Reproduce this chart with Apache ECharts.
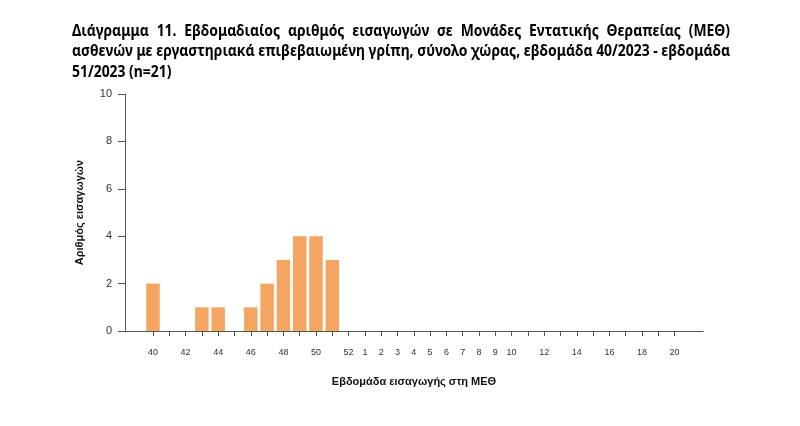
<!DOCTYPE html>
<html>
<head>
<meta charset="utf-8">
<script src="https://cdn.jsdelivr.net/npm/echarts@6/dist/echarts.min.js"></script>
<style>
html,body{margin:0;padding:0;background:#fff;}
#c{width:800px;height:426px;}
</style>
</head>
<body>
<div id="c"></div>
<script>
// Weeks 40/2023 .. 20/2024
const weeks = ['40','41','42','43','44','45','46','47','48','49','50','51','52',
  '1','2','3','4','5','6','7','8','9','10','11','12','13','14','15','16','17','18','19','20'];
const admissions = [2,0,0,1,1,0,1,2,3,4,4,3,0, 0,0,0,0,0,0,0,0,0,0,0,0,0,0,0,0,0,0,0,0];
const labelledWeeks = ['40','42','44','46','48','50','52','1','2','3','4','5','6','7','8','9','10','12','14','16','18','20'];
const yTicks = [0,2,4,6,8,10];

const titleLine1Words = ['Διάγραμμα','11.','Εβδομαδιαίος','αριθμός','εισαγωγών','σε','Μονάδες','Εντατικής','Θεραπείας','(ΜΕΘ)'];
const titleLine2 = 'ασθενών με εργαστηριακά επιβεβαιωμένη γρίπη, σύνολο χώρας, εβδομάδα 40/2023 - εβδομάδα';
const titleLine3 = '51/2023 (n=21)';
const yName = 'Αριθμός εισαγωγών';
const xName = 'Εβδομάδα εισαγωγής στη ΜΕΘ';

// title layout: condensed to match the narrow original font
const TL = 72, TR = 730;
const fam = '"Noto Sans", sans-serif';
const fs = 15.5;
const font = 'bold ' + fs + 'px ' + fam;
const cv = document.createElement('canvas').getContext('2d');
function w(t){ cv.font = font; return cv.measureText(t).width; }
const sx = (TR - TL) / w(titleLine2);
const lineY = [31.5, 52, 72.5];
const gfx = [];
function txt(t, x, y){
  gfx.push({type:'text', x:x, y:y, scaleX:sx, scaleY:1,
    style:{x:0, y:0, text:t, font:font, fill:'#000', verticalAlign:'middle', align:'left'}});
}
const wordsW = titleLine1Words.map(t => w(t) * sx);
const totalW = wordsW.reduce((a,b)=>a+b,0);
const gap = (TR - TL - totalW) / (titleLine1Words.length - 1);
let x = TL;
titleLine1Words.forEach((t,i) => { txt(t, x, lineY[0]); x += wordsW[i] + gap; });
txt(titleLine2, TL, lineY[1]);
txt(titleLine3, TL, lineY[2]);

const chart = echarts.init(document.getElementById('c'), null, {renderer:'canvas'});
const axCol = '#555';
const lab = 'Liberation Sans, Arial, sans-serif';
chart.setOption({
  animation:false,
  backgroundColor:'#fff',
  graphic: gfx,
  grid:[
    {left:125, right:97, top:94, bottom:95},
    {left:144.85, right:117.25, top:94, bottom:95}
  ],
  xAxis:[
    {type:'value', gridIndex:0, min:0, max:1, axisLine:{show:true, lineStyle:{color:axCol}},
     axisTick:{show:false}, axisLabel:{show:false}, splitLine:{show:false},
     name:xName, nameLocation:'middle', nameGap:45,
     nameTextStyle:{fontFamily:lab, fontWeight:'bold', fontSize:11, color:'#111'}},
    {type:'category', gridIndex:1, data:weeks, boundaryGap:true,
     axisLine:{show:false},
     axisTick:{show:true, alignWithLabel:true, interval:0, length:5, lineStyle:{color:axCol}},
     axisLabel:{interval:(i,v)=>labelledWeeks.includes(v), margin:17, fontSize:9,
       fontFamily:lab, color:'#333'}}
  ],
  yAxis:[
    {type:'value', gridIndex:0, min:yTicks[0], max:yTicks[yTicks.length-1], interval:2,
     axisLine:{show:true, lineStyle:{color:axCol}},
     axisTick:{show:true, length:7, lineStyle:{color:axCol}},
     axisLabel:{margin:13, fontSize:11, fontFamily:lab, color:'#333'},
     splitLine:{show:false},
     name:yName, nameLocation:'middle', nameGap:40, nameRotate:90,
     nameTextStyle:{fontFamily:lab, fontWeight:'bold', fontSize:11, color:'#111'}},
    {type:'value', gridIndex:1, min:0, max:10, show:false}
  ],
  series:[{
    type:'bar', xAxisIndex:1, yAxisIndex:1, data:admissions, barWidth:13.5,
    itemStyle:{color:'#F4A562'}
  }]
});
</script>
</body>
</html>
